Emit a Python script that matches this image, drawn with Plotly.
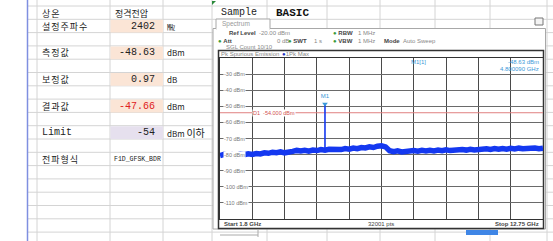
import plotly.graph_objects as go

W, H = 553, 241

# ---------------- data ----------------
# spreadsheet rows (label, value, unit)
row_labels = ["상온", "설정주파수", "측정값", "보정값", "결과값", "Limit", "전파형식"]
row_values = ["정격전압", "2402", "-48.63", "0.97", "-47.66", "-54", "F1D_GFSK_BDR"]
row_units = ["", "㎒", "dBm", "dB", "dBm", "dBm <span style='font-size:10px'>이하</span>", ""]
row_index = [0, 1, 3, 5, 7, 9, 11]

# spectrum: trace point index (0..32000 pts) and level (dBm)
trace_idx = list(range(0, 32001, 400))
trace_lvl = [-80.6, -79.9, -80.4, -80.0, -80.5, -79.7, -80.1, -79.5, -79.9, -79.3,
             -79.6, -78.9, -79.2, -78.5, -78.8, -78.3, -78.9, -78.1, -78.0, -77.4,
             -77.8, -77.3, -77.9, -77.2, -77.5, -76.9, -77.3, -76.7, -77.0, -76.5,
             -76.9, -76.3, -76.6, -75.9, -76.3, -75.6, -75.9, -75.2, -75.6, -74.8,
             -74.5, -75.2, -77.6, -78.2, -77.7, -78.3, -77.8, -78.1, -77.5, -77.9,
             -77.4, -77.8, -77.3, -77.7, -77.2, -77.6, -77.0, -77.5, -77.1, -77.4,
             -76.8, -77.2, -76.7, -77.1, -76.6, -76.9, -76.4, -76.8, -76.3, -76.7,
             -76.2, -76.6, -76.1, -76.5, -76.0, -76.4, -76.1, -76.5, -75.9, -76.3,
             -76.0]
marker_idx = [10400]
marker_lvl = [-48.63]
marker_base = [-77.0]
limit_lvl = -54.0
y_tick_vals = [-30, -40, -50, -60, -70, -80, -90, -100, -110]


def X(px):
    return px / W


def Y(py):
    return 1 - py / H


fig = go.Figure()

shapes = []
ann = []

# ---------------- spreadsheet background ----------------
grid_col = "#d4d4d4"
row_lines = [6 + 13.3 * k for k in range(18)]
for yl in row_lines:
    shapes.append(dict(type="line", xref="paper", yref="paper", x0=X(27), x1=1,
                       y0=Y(yl), y1=Y(yl), line=dict(color=grid_col, width=1), layer="below"))
for xl in [37, 110, 163, 212, 267, 327, 380, 435, 490, 547]:
    shapes.append(dict(type="line", xref="paper", yref="paper", x0=X(xl), x1=X(xl),
                       y0=0, y1=1, line=dict(color=grid_col, width=1), layer="below"))
# shaded cells
for k, col in [(1, "#fbe5d6"), (3, "#fbe5d6"), (5, "#fbe5d6"), (7, "#fbe5d6"), (9, "#e6e0ee")]:
    shapes.append(dict(type="rect", xref="paper", yref="paper", x0=X(110.5), x1=X(163),
                       y0=Y(row_lines[k] + 0.5), y1=Y(row_lines[k + 1]), fillcolor=col,
                       line=dict(width=0), layer="below"))
# blue left border
shapes.append(dict(type="line", xref="paper", yref="paper", x0=X(27.5), x1=X(27.5),
                   y0=0, y1=1, line=dict(color="#7f8fe0", width=1.5), layer="below"))
# green comment indicator
shapes.append(dict(type="path", xref="paper", yref="paper",
                   path=f"M {X(212)} {Y(1)} L {X(216)} {Y(1)} L {X(212)} {Y(5)} Z",
                   fillcolor="#2a8a3a", line=dict(width=0), layer="below"))


def txt(px, py, s, font, anchor="left"):
    ann.append(dict(x=X(px), y=Y(py), xref="paper", yref="paper", text=s, xanchor=anchor,
                    yanchor="middle", showarrow=False, font=font))


for lab, val, unit, k in zip(row_labels, row_values, row_units, row_index):
    yc = row_lines[k] + 7.0
    if lab == "Limit":
        txt(40, yc, lab, dict(family="Liberation Mono", size=10, color="#222"))
    else:
        txt(40, yc, f"<span style='letter-spacing:1px'>{lab}</span>",
            dict(family="Noto Sans CJK KR", size=9, color="#222"))
    if k == 0:
        txt(113, yc, val, dict(family="Noto Sans CJK KR", size=9, color="#222"))
    elif k == 11:
        txt(112, yc, val, dict(family="Liberation Mono", size=6.5, color="#222"))
    else:
        txt(157, yc, val, dict(family="Liberation Mono", size=10,
                               color="#e02020" if k == 7 else "#222"), "right")
    if unit:
        txt(165, yc, unit, dict(family="Noto Sans CJK KR", size=8, color="#222"))

txt(219, 12.5, "Sample", dict(family="Liberation Mono", size=10, color="#222"))
txt(274, 12.5, "<b>BASIC</b>", dict(family="Liberation Mono", size=11, color="#111"))

# ---------------- spectrum screenshot frame ----------------
shapes.append(dict(type="rect", xref="paper", yref="paper", x0=X(213), x1=X(545.5),
                   y0=Y(229), y1=Y(28.5), fillcolor="white", line=dict(color="#a8a8a8", width=1),
                   layer="below"))
shapes.append(dict(type="rect", xref="paper", yref="paper", x0=X(216), x1=X(270),
                   y0=Y(29), y1=Y(19), fillcolor="white", line=dict(color="#a8a8a8", width=1),
                   layer="below"))
shapes.append(dict(type="line", xref="paper", yref="paper", x0=X(216.5), x1=X(269.5),
                   y0=Y(29), y1=Y(29), line=dict(color="white", width=2), layer="below"))
shapes.append(dict(type="rect", xref="paper", yref="paper", x0=X(535), x1=X(543),
                   y0=Y(25), y1=Y(18), fillcolor="#f4f4f4", line=dict(color="#777", width=1),
                   layer="below"))
shapes.append(dict(type="rect", xref="paper", yref="paper", x0=X(218.5), x1=X(543.5),
                   y0=Y(228.5), y1=Y(50.5), fillcolor="white", line=dict(color="#333", width=1.5),
                   layer="below"))
shapes.append(dict(type="line", xref="paper", yref="paper", x0=X(220), x1=X(258),
                   y0=Y(235), y1=Y(235), line=dict(color="#aaa", width=1), layer="below"))
shapes.append(dict(type="line", xref="paper", yref="paper", x0=X(258), x1=X(258),
                   y0=Y(229), y1=Y(237), line=dict(color="#aaa", width=1), layer="below"))
shapes.append(dict(type="rect", xref="paper", yref="paper", x0=X(466), x1=X(498),
                   y0=Y(235), y1=Y(230), fillcolor="#3f86e6", line=dict(width=0), layer="below"))

sfont = dict(family="Liberation Sans", size=6, color="#444")
gfont = dict(family="Liberation Sans", size=6, color="#888")

txt(220, 24, "Spectrum", dict(family="Liberation Sans", size=6.5, color="#999"))
txt(227, 33.5, "<b>Ref Level</b>", sfont)
txt(257, 33.5, "-20.00 dBm", gfont)
txt(331, 33.5, "<span style='color:#3a9a3a'>●</span> <b>RBW</b>", sfont)
txt(356, 33.5, "1 MHz", gfont)
txt(216, 40.5, "<span style='color:#3a9a3a'>●</span> <b>Att</b>", sfont)
txt(275, 40.5, "0 dB", gfont)
txt(286, 40.5, "<span style='color:#3a9a3a'>●</span> <b>SWT</b>", sfont)
txt(312, 40.5, "1 s", gfont)
txt(331, 40.5, "<span style='color:#3a9a3a'>●</span> <b>VBW</b>", sfont)
txt(356, 40.5, "1 MHz", gfont)
txt(382, 40.5, "<b>Mode</b>", sfont)
txt(401, 40.5, "Auto Sweep", gfont)
txt(224, 47, "SGL Count 10/10", gfont)
txt(219, 54.5, "Pk Spurious Emission", gfont)
txt(280, 54.5, "<span style='color:#2030c0'>●</span>1Pk Max", gfont)
txt(222, 223.8, "<b>Start 1.8 GHz</b>", sfont)
txt(381, 223.8, "32001 pts", sfont, "center")
txt(541, 223.8, "<b>Stop 12.75 GHz</b>", sfont, "right")

bfont = dict(family="Liberation Sans", size=6, color="#3a98d8")
txt(409, 62.5, "M1[1]", bfont)
txt(541, 62.5, "-48.63 dBm", bfont, "right")
txt(541, 68.5, "4.800090 GHz", bfont, "right")

for v in y_tick_vals:
    ann.append(dict(x=X(223), y=v, xref="paper", yref="y", text=f"{v} dBm", xanchor="left",
                    yanchor="middle", showarrow=False, bgcolor="white", borderpad=0,
                    font=dict(family="Liberation Sans", size=5.5, color="#777")))
ann.append(dict(x=X(252), y=limit_lvl, xref="paper", yref="y", text="D1  -54.000 dBm",
                xanchor="left", yanchor="middle", showarrow=False, bgcolor="white", borderpad=0,
                font=dict(family="Liberation Sans", size=5.5, color="#d05050")))

# ---------------- traces ----------------
fig.add_trace(go.Scatter(x=[0, 32000], y=[limit_lvl, limit_lvl], mode="lines",
                         line=dict(color="#e08080", width=1), hoverinfo="skip"))
fig.add_trace(go.Scatter(x=trace_idx, y=trace_lvl, mode="lines",
                         line=dict(color="#1438f0", width=5.5), hoverinfo="skip"))
fig.add_trace(go.Scatter(x=[marker_idx[0], marker_idx[0]], y=[marker_base[0], marker_lvl[0]],
                         mode="lines", line=dict(color="#1438f0", width=1.6), hoverinfo="skip"))
fig.add_trace(go.Scatter(x=marker_idx, y=marker_lvl, mode="markers+text", text=["M1"],
                         textposition="top center",
                         textfont=dict(family="Liberation Sans", size=6, color="#3a98d8"),
                         marker=dict(symbol="triangle-down", size=5, color="#3a98d8"),
                         hoverinfo="skip"))

fig.update_layout(
    width=W, height=H, margin=dict(l=0, r=0, t=0, b=0),
    paper_bgcolor="white", plot_bgcolor="white", showlegend=False,
    shapes=shapes, annotations=ann,
    xaxis=dict(domain=[X(220), X(543)], range=[0, 32000], dtick=3200, tick0=0,
               showticklabels=False, ticks="", zeroline=False, showgrid=True,
               gridcolor="#4a4a4a", gridwidth=1, showline=True, mirror=True,
               linecolor="#333", linewidth=1),
    yaxis=dict(domain=[Y(219), Y(58)], range=[-120, -20], dtick=10, tick0=-20,
               showticklabels=False, ticks="", zeroline=False, showgrid=True,
               gridcolor="#6a6a6a", gridwidth=1, showline=True, mirror=True,
               linecolor="#333", linewidth=1),
)

fig.write_html("out.html")
